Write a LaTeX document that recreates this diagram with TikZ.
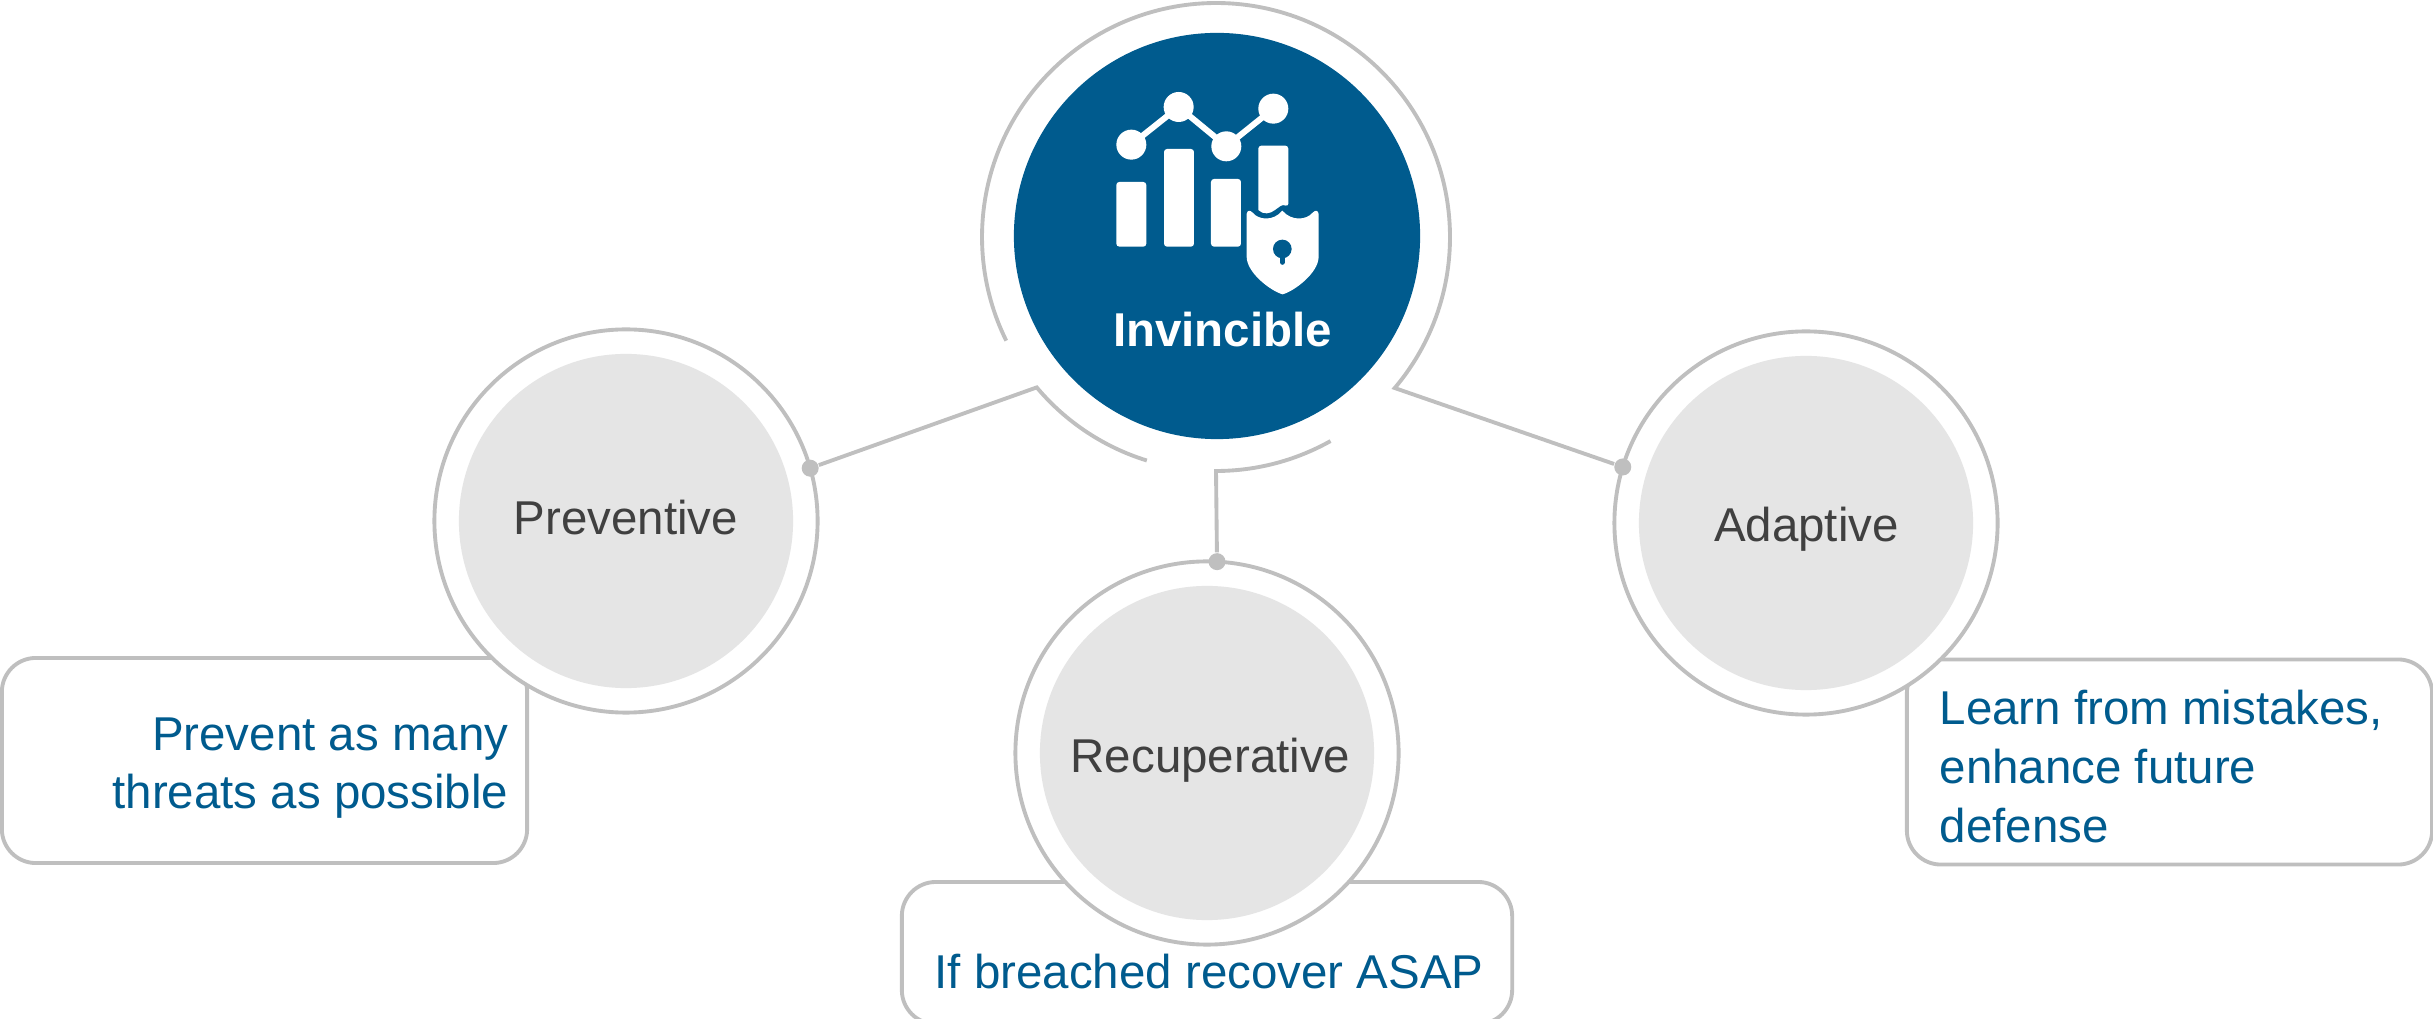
\documentclass[tikz,border=0pt]{standalone}
\usepackage{fontspec}
\setmainfont{Liberation Sans}
\usepackage{xcolor}
\usetikzlibrary{calc}
\definecolor{hubblue}{HTML}{005B8E}
\definecolor{ringgray}{HTML}{BFBFBF}
\definecolor{discgray}{HTML}{E5E5E5}
\definecolor{labelgray}{HTML}{404040}
\tikzset{
    ringline/.style={draw=ringgray, line width=1.1pt},
    outerring/.style={ringline, circle, fill=white, minimum size=3.83cm, inner sep=0pt, outer sep=0pt},
    innerdisc/.style={circle, fill=discgray, minimum size=3.34cm, inner sep=0pt},
    disclabel/.style={text=labelgray, anchor=base, inner sep=0pt},
    jointdot/.style={circle, fill=ringgray, minimum size=0.17cm, inner sep=0pt},
    notebox/.style={ringline, rounded corners=0.34cm, fill=white, inner sep=0pt, outer sep=0pt, minimum height=2.05cm, minimum width=5.25cm},
    notetext/.style={text=hubblue, inner sep=0pt, font=\fontsize{13.5}{16.4}\selectfont},
}
\begin{document}
\begin{tikzpicture}[x=0.01cm, y=0.01cm, font=\fontsize{13.5}{16}\selectfont]
    \useasboundingbox (0,0) rectangle (2433,-1019);
    \clip (0,0) rectangle (2433,-1019);
    % boxes behind the circles
    \node[notebox] (prevbox) at (264.5,-760.5) {};
    \node[notebox] (adapbox) at (2169.5,-762) {};
    \node[notebox, minimum width=6.1cm, minimum height=1.42cm] (recubox) at (1207,-953) {};
    \node[outerring] (prevring) at (626,-521) {};
    \node[outerring] (adapring) at (1806,-523) {};
    \node[outerring] (recuring) at (1207,-753) {};
    \node[innerdisc] (prevdisc) at (prevring) {};
    \node[innerdisc] (adapdisc) at (adapring) {};
    \node[innerdisc] (recudisc) at (recuring) {};
    \node[disclabel] (prevlabel) at (626,-535) {Preventive};
    \node[disclabel] (adaplabel) at (1806.5,-542) {Adaptive};
    \node[disclabel] (reculabel) at (1210.5,-773) {Recuperative};
    % hub
    \node[circle, fill=hubblue, minimum size=4.06cm, inner sep=0pt] (hub) at (1217,-236) {};
    \node[text=white, font=\fontsize{13.5}{16}\selectfont\bfseries, anchor=base, inner sep=0pt] (hubtext) at (1222.5,-347) {Invincible};
    \node[jointdot] (prevdot) at (prevring.16.4) {};
    \node[jointdot] (adapdot) at (adapring.163) {};
    \node[jointdot] (recudot) at (recuring.87.6) {};
    \coordinate (ringcenter) at (1216,-237);
    \coordinate (ringright) at ($(ringcenter)+(-40.2:234)$);
    \coordinate (ringleft) at ($(ringcenter)+(220:234)$);
    \coordinate (ringbottom) at ($(ringcenter)+(270:234)$);
    \draw[ringline] (adapdot) -- (ringright) arc[start angle=-40.2, end angle=206.3, radius=234];
    \draw[ringline] (prevdot) -- (ringleft) arc[start angle=220, end angle=252.8, radius=234];
    \draw[ringline] (recudot) -- (ringbottom) arc[start angle=270, end angle=299.3, radius=234];
    % icon, in pixels of the crop
    \begin{scope}[shift={(1050,-60)}, xscale=0.3333, yscale=-0.3333]
        \draw[white, line width=0.06cm] (244,254) -- (386,141) -- (529,259) -- (670,146);
        \foreach \x/\y in {244/254,386/141,529/259,670/146} \fill[white] (\x,\y) circle[radius=45];
        \foreach \x/\y in {199/366,342/267,483/357} \fill[white, rounded corners=0.03cm] (\x,\y) rectangle (\x+90,560);
        \fill[white, rounded corners=0.03cm] (625,450) -- (625,257) -- (715,257) -- (715,440) [sharp corners] .. controls (695,432) and (690,440) .. (675,450) .. controls (660,462) and (640,465) .. (625,450) -- cycle;
        \fill[white] (590,462) .. controls (592,450) and (600,450) .. (608,458) .. controls (625,480) and (670,485) .. (697,452) .. controls (725,485) and (770,480) .. (788,458) .. controls (796,450) and (804,450) .. (806,462) -- (806,590) .. controls (806,640) and (730,695) .. (698,703) .. controls (666,695) and (590,640) .. (590,590) -- cycle;
        \fill[hubblue] (697,567) circle[radius=28];
        \draw[hubblue, line width=0.05cm, line cap=round] (697,580) -- (697,607);
    \end{scope}
    % texts of the boxes
    \node[notetext, align=right, anchor=base east] (prevnote) at (509,-808) {Prevent as many\\threats as possible};
    \node[notetext, font=\fontsize{13.5}{16.9}\selectfont, align=left, anchor=base west] (adapnote) at (1939,-843) {Learn from mistakes,\\enhance future\\defense};
    \node[notetext, anchor=base] (recunote) at (1209,-988) {If breached recover ASAP};
\end{tikzpicture}
\end{document}
